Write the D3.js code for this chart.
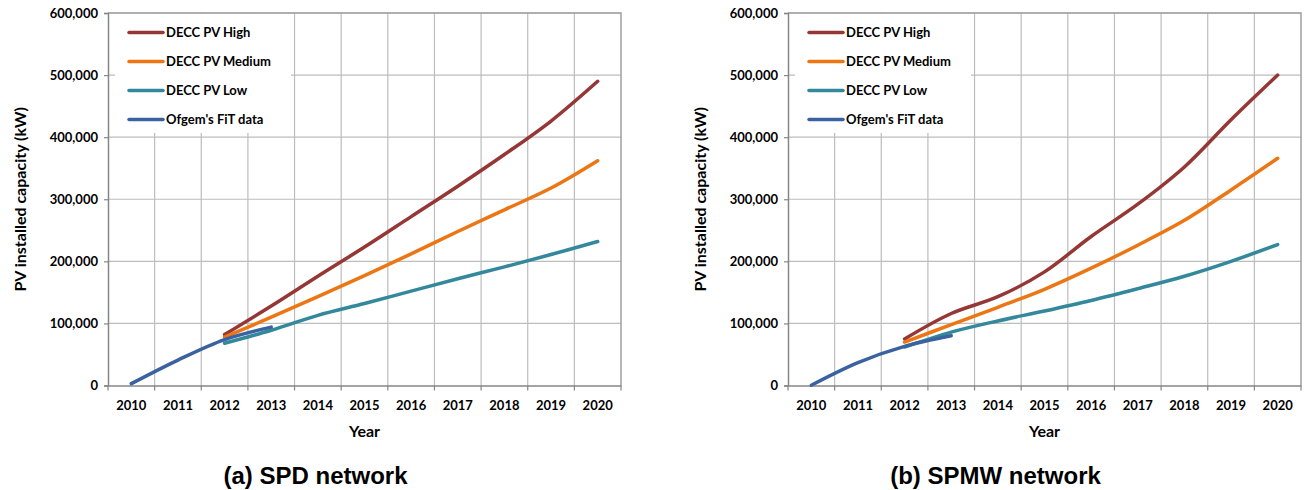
<!DOCTYPE html>
<html>
<head>
<meta charset="utf-8">
<script src="https://cdn.jsdelivr.net/npm/d3@7"></script>
<style>
  body { margin: 0; background: #fff; }
  svg text { font-family: Lato, "Open Sans", sans-serif; font-weight: bold; font-size: 13px; fill: #000; }
  svg text.axis-title { font-size: 16px; }
  svg text.title { font-family: "Liberation Sans", Arial, sans-serif; font-size: 24px; }
</style>
</head>
<body>
<svg id="chart" width="1304" height="490"></svg>
<script>
// Categories and tick values
const years = [2010, 2011, 2012, 2013, 2014, 2015, 2016, 2017, 2018, 2019, 2020];
const yTicks = [0, 100000, 200000, 300000, 400000, 500000, 600000];
const seriesNames = ["DECC PV High", "DECC PV Medium", "DECC PV Low", "Ofgem's FiT data"];
const seriesColors = ["#953735", "#ec7613", "#33889c", "#3a62a0"];

// (a) SPD network, values in kW (null = no value)
const spdHigh   = [null, null, 82000, 128000, 176000, 223000, 272000, 321000, 372000, 426000, 490000];
const spdMedium = [null, null, 78000, 110000, 143000, 177000, 212000, 248000, 283000, 318000, 362000];
const spdLow    = [null, null, 68000, 89000, 113000, 132000, 152000, 172000, 191000, 211000, 232000];
const spdOfgem  = [3000, 41000, 74000, 94000, null, null, null, null, null, null, null];

// (b) SPMW network
const spmwHigh   = [null, null, 75000, 116000, 143000, 183000, 240000, 292000, 352000, 428000, 500000];
const spmwMedium = [null, null, 70000, 98000, 126000, 155000, 189000, 226000, 266000, 315000, 366000];
const spmwLow    = [null, null, 62000, 86000, 104000, 120000, 137000, 156000, 176000, 200000, 227000];
const spmwOfgem  = [500, 37000, 63000, 80000, null, null, null, null, null, null, null];

const panels = [
    { left: 108, title: "(a) SPD network", data: [spdHigh, spdMedium, spdLow, spdOfgem] },
    { left: 788, title: "(b) SPMW network", data: [spmwHigh, spmwMedium, spmwLow, spmwOfgem] }
];

const plotW = 513, plotTop = 13, plotBottom = 385.5;
const svg = d3.select("#chart");

panels.forEach(function(p) {
    const g = svg.append("g").attr("transform", `translate(${p.left},0)`);

    const x = d3.scaleBand().domain(years).range([0, plotW]).padding(0);
    const y = d3.scaleLinear().domain([0, 600000]).range([plotBottom, plotTop]);

    // horizontal gridlines
    g.selectAll(".hgrid")
        .data(yTicks.slice(1))
        .enter().append("line")
        .attr("x1", 0).attr("x2", plotW)
        .attr("y1", d => y(d)).attr("y2", d => y(d))
        .attr("stroke", "#bdbdbd").attr("stroke-width", 1.2);

    // vertical gridlines at category boundaries
    g.selectAll(".vgrid")
        .data(years.slice(1))
        .enter().append("line")
        .attr("x1", d => x(d)).attr("x2", d => x(d))
        .attr("y1", plotTop).attr("y2", plotBottom)
        .attr("stroke", "#bdbdbd").attr("stroke-width", 1.2);

    // plot border (top and right)
    g.append("path")
        .attr("d", `M0,${plotTop}H${plotW}V${plotBottom}`)
        .attr("fill", "none").attr("stroke", "#a0a0a0").attr("stroke-width", 1.5);

    // y axis
    const yAxis = g.append("g")
        .call(d3.axisLeft(y).tickValues(yTicks).tickSize(4).tickPadding(6).tickFormat(d3.format(",")));
    yAxis.attr("font-family", null).attr("font-size", null);
    yAxis.select(".domain").attr("stroke", "#868686").attr("stroke-width", 1.5);
    yAxis.selectAll(".tick line").attr("stroke", "#868686").attr("stroke-width", 1.2);

    // x axis, ticks sit between categories
    const xAxis = g.append("g").attr("transform", `translate(0,${plotBottom})`)
        .call(d3.axisBottom(x).tickSize(0).tickPadding(15));
    xAxis.attr("font-family", null).attr("font-size", null);
    xAxis.select(".domain").attr("stroke", "#868686").attr("stroke-width", 1.5);
    xAxis.selectAll(".bound")
        .data(d3.range(years.length + 1))
        .enter().append("line")
        .attr("x1", i => i * x.bandwidth()).attr("x2", i => i * x.bandwidth())
        .attr("y1", 0).attr("y2", 5)
        .attr("stroke", "#868686").attr("stroke-width", 1.2);

    // axis titles
    g.append("text")
        .attr("class", "axis-title")
        .attr("x", plotW / 2).attr("y", 437)
        .attr("text-anchor", "middle")
        .text("Year");
    g.append("text")
        .attr("class", "axis-title")
        .attr("transform", `translate(-88,${(plotTop + plotBottom) / 2}) rotate(-90)`)
        .attr("dy", "0.35em")
        .attr("text-anchor", "middle")
        .text("PV installed capacity (kW)");

    // legend box
    const lg = g.append("g").attr("transform", "translate(7,14)");
    lg.append("rect").attr("width", 176).attr("height", 119).attr("fill", "#fff");
    seriesNames.forEach(function(name, i) {
        const ly = 18.5 + i * 29;
        lg.append("line")
            .attr("x1", 14).attr("x2", 48).attr("y1", ly).attr("y2", ly)
            .attr("stroke", seriesColors[i]).attr("stroke-width", 3.5).attr("stroke-linecap", "round");
        lg.append("text")
            .attr("x", 51).attr("y", ly).attr("dy", "0.35em")
            .text(name);
    });

    // series lines
    const line = d3.line()
        .defined(d => d.v !== null)
        .x(d => x(d.year) + x.bandwidth() / 2)
        .y(d => y(d.v))
        .curve(d3.curveCatmullRom.alpha(0.5));

    p.data.forEach(function(vals, i) {
        g.append("path")
            .datum(years.map((yr, j) => ({ year: yr, v: vals[j] })))
            .attr("d", line)
            .attr("fill", "none")
            .attr("stroke", seriesColors[i])
            .attr("stroke-width", 3.5)
            .attr("stroke-linecap", "round");
    });

    // panel caption
    g.append("text")
        .attr("class", "title")
        .attr("x", plotW / 2 - 49).attr("y", 484)
        .attr("text-anchor", "middle")
        .text(p.title);
});
</script>
</body>
</html>
